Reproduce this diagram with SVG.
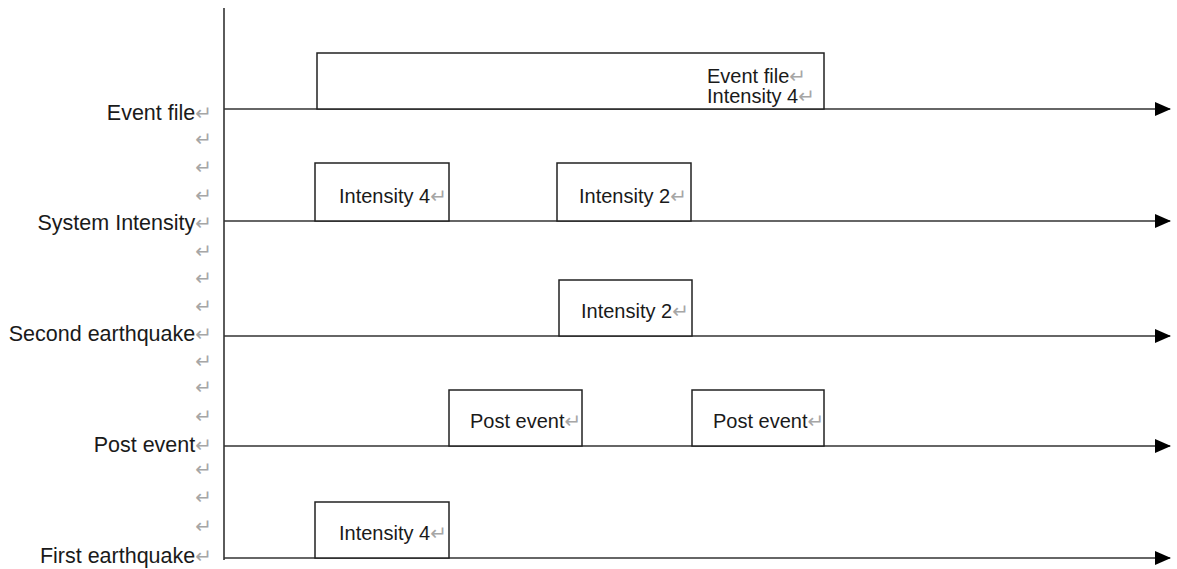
<svg xmlns="http://www.w3.org/2000/svg" width="1177" height="569" viewBox="0 0 1177 569">
<style>
.t{font-family:"Liberation Sans",Arial,sans-serif;font-size:20px;fill:#1a1a1a}
.l{font-size:21.5px}
.r{font-family:"DejaVu Sans",sans-serif;font-size:20px;fill:#a6a6a6}
.box{fill:#fff;stroke:#222;stroke-width:1.5}
.line{stroke:#333;stroke-width:1.6;fill:none}
</style>
<defs>
<marker id="ah" markerWidth="16" markerHeight="14" refX="15" refY="7" orient="auto" markerUnits="userSpaceOnUse">
<path d="M0,0 L16,7 L0,14 Z" fill="#000"/>
</marker>
</defs>
<g id="connectors">
<line class="line" x1="224" y1="8" x2="224" y2="560"/>
<line class="line" x1="224" y1="109" x2="1170" y2="109" marker-end="url(#ah)"/>
<line class="line" x1="224" y1="221" x2="1170" y2="221" marker-end="url(#ah)"/>
<line class="line" x1="224" y1="336" x2="1170" y2="336" marker-end="url(#ah)"/>
<line class="line" x1="224" y1="446" x2="1170" y2="446" marker-end="url(#ah)"/>
<line class="line" x1="224" y1="558" x2="1170" y2="558" marker-end="url(#ah)"/>
</g>
<g id="labels">
<text class="t l" x="212" y="120" text-anchor="end">Event file<tspan class="r">↵</tspan></text>
<text class="r" x="212" y="146" text-anchor="end">↵</text>
<text class="r" x="212" y="174" text-anchor="end">↵</text>
<text class="r" x="212" y="202" text-anchor="end">↵</text>
<text class="t l" x="212" y="230" text-anchor="end">System Intensity<tspan class="r">↵</tspan></text>
<text class="r" x="212" y="258" text-anchor="end">↵</text>
<text class="r" x="212" y="285" text-anchor="end">↵</text>
<text class="r" x="212" y="313" text-anchor="end">↵</text>
<text class="t l" x="212" y="341" text-anchor="end">Second earthquake<tspan class="r">↵</tspan></text>
<text class="r" x="212" y="368" text-anchor="end">↵</text>
<text class="r" x="212" y="394" text-anchor="end">↵</text>
<text class="r" x="212" y="423" text-anchor="end">↵</text>
<text class="t l" x="212" y="452" text-anchor="end">Post event<tspan class="r">↵</tspan></text>
<text class="r" x="212" y="476" text-anchor="end">↵</text>
<text class="r" x="212" y="504" text-anchor="end">↵</text>
<text class="r" x="212" y="533" text-anchor="end">↵</text>
<text class="t l" x="212" y="563" text-anchor="end">First earthquake<tspan class="r">↵</tspan></text>
</g>
<g id="node-eventfile">
<rect class="box" x="317" y="53" width="507" height="56"/>
<text class="t" x="707" y="83">Event file<tspan class="r">↵</tspan></text>
<text class="t" x="707" y="103">Intensity 4<tspan class="r">↵</tspan></text>
</g>
<g id="node-sys1">
<rect class="box" x="315" y="163" width="134" height="58"/>
<text class="t" x="339" y="203">Intensity 4<tspan class="r">↵</tspan></text>
</g>
<g id="node-sys2">
<rect class="box" x="557" y="163" width="134" height="58"/>
<text class="t" x="579" y="203">Intensity 2<tspan class="r">↵</tspan></text>
</g>
<g id="node-second">
<rect class="box" x="559" y="280" width="133" height="56"/>
<text class="t" x="581" y="318">Intensity 2<tspan class="r">↵</tspan></text>
</g>
<g id="node-post1">
<rect class="box" x="449" y="390" width="133" height="56"/>
<text class="t" x="470" y="428">Post event<tspan class="r">↵</tspan></text>
</g>
<g id="node-post2">
<rect class="box" x="692" y="390" width="132" height="56"/>
<text class="t" x="713" y="428">Post event<tspan class="r">↵</tspan></text>
</g>
<g id="node-first">
<rect class="box" x="315" y="502" width="134" height="56"/>
<text class="t" x="339" y="540">Intensity 4<tspan class="r">↵</tspan></text>
</g>
</svg>
